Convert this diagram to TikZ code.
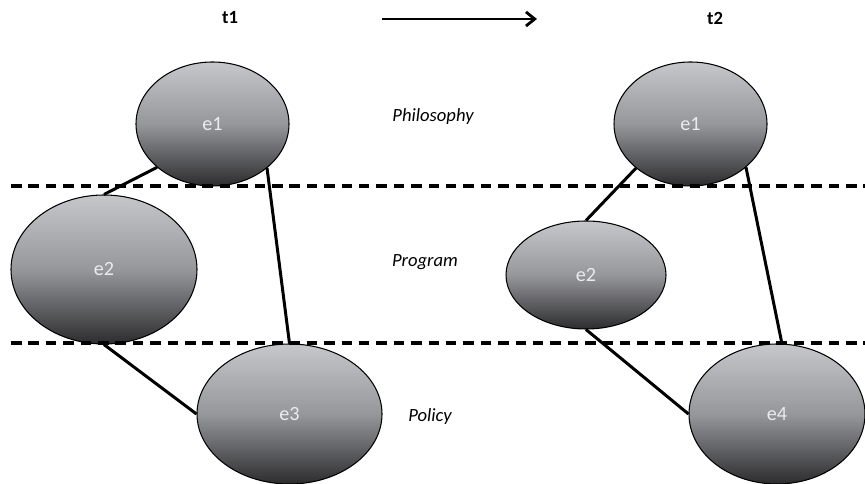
\documentclass[tikz,border=0pt]{standalone}
\usepackage{fontspec}
\setmainfont{Carlito}
\usetikzlibrary{shapes.geometric, arrows.meta}
\definecolor{shadetop}{RGB}{198,199,203}
\definecolor{shademid}{RGB}{150,151,155}
\definecolor{shadebot}{RGB}{44,44,46}
\definecolor{labelgray}{RGB}{235,235,235}
\tikzset{
  ent/.style={ellipse, draw=black, line width=0.6pt, top color=shadetop, bottom color=shadebot,
    middle color=shademid, text=labelgray, font=\fontsize{11.5}{13}\selectfont, inner sep=0pt},
  level/.style={font=\fontsize{10.6}{12}\selectfont\itshape},
  stamp/.style={font=\fontsize{10.6}{12}\selectfont\bfseries},
  link/.style={line width=1.7pt},
  sep/.style={line width=2pt, dash pattern=on 6pt off 3.9pt}
}
\begin{document}
\begin{tikzpicture}
  \useasboundingbox (0, 0) rectangle (17.3, 9.68);

  % Time stamps
  \node[stamp] (t1) at (4.6, 9.32) {t1};
  \node[stamp] (t2) at (14.3, 9.32) {t2};
  \coordinate (arrowstart) at (7.64, 9.3);
  \coordinate (arrowend) at (10.74, 9.3);
  \draw[-{Straight Barb[length=5pt, width=8pt]}, line width=1.6pt] (arrowstart) -- (arrowend);

  % Levels
  \node[level] (philo) at (8.66, 7.34) {Philosophy};
  \node[level] (prog) at (8.5, 4.44) {Program};
  \node[level] (pol) at (8.6, 1.34) {Policy};

  % Elements at t1
  \node[ent, minimum width=3.06cm, minimum height=2.48cm] (l1) at (4.25, 7.2) {e1};
  \node[ent, minimum width=3.72cm, minimum height=2.98cm] (l2) at (2.08, 4.29) {e2};
  \node[ent, minimum width=3.7cm, minimum height=2.8cm] (l3) at (5.79, 1.4) {e3};

  % Elements at t2
  \node[ent, minimum width=3.06cm, minimum height=2.48cm] (r1) at (13.81, 7.2) {e1};
  \node[ent, minimum width=3.2cm, minimum height=2.16cm] (r2) at (11.72, 4.18) {e2};
  \node[ent, minimum width=3.52cm, minimum height=2.8cm] (r4) at (15.54, 1.4) {e4};

  % Level boundaries
  \coordinate (upleft) at (0.22, 5.96);
  \coordinate (upright) at (17.3, 5.96);
  \coordinate (lowleft) at (0.22, 2.82);
  \coordinate (lowright) at (17.3, 2.82);
  \draw[sep] (upleft) -- (upright);
  \draw[sep] (lowleft) -- (lowright);

  % Links
  \draw[link] (l1.218) -- (l2.north);
  \draw[link] (l1.-39) -- (l3.north);
  \draw[link] (l2.south) -- (l3.west);
  \draw[link] (r1.219) -- (r2.north);
  \draw[link] (r1.-38) -- (r4.86);
  \draw[link] (r2.south) -- (r4.west);
\end{tikzpicture}
\end{document}
